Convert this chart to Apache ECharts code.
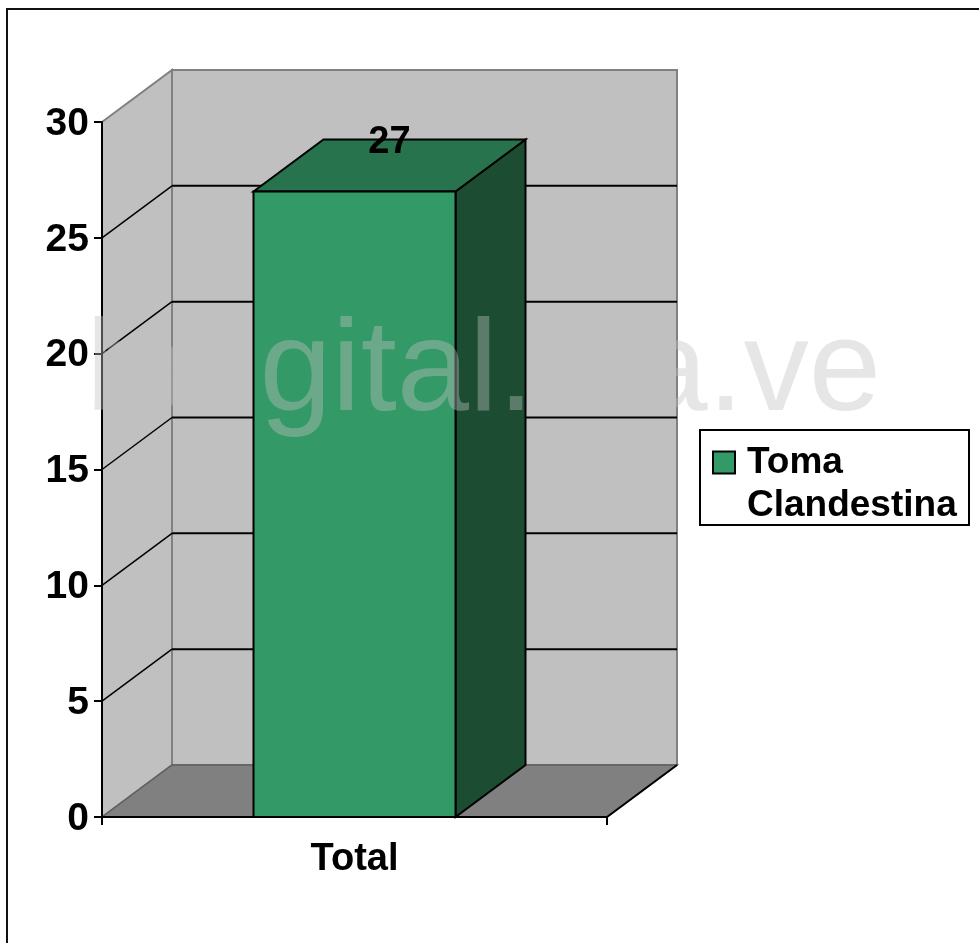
<!DOCTYPE html>
<html>
<head>
<meta charset="utf-8">
<style>
  html, body { margin: 0; padding: 0; background: #fff; }
  #chart { width: 979px; height: 943px; }
</style>
<script src="https://cdn.jsdelivr.net/npm/echarts@6/dist/echarts.min.js"></script>
</head>
<body>
<div id="chart"></div>
<script>
const categories = ['Total'];
const seriesName = 'Toma Clandestina';
const seriesValues = [27];
const gridValues = [5, 10, 15, 20, 25];

// fake 3d offset of the box, in pixels
const DEPTH_X = 70;
const DEPTH_Y = 52;
const FONT = '"Liberation Sans", Arial, sans-serif';

function poly(points, fill, stroke, lineWidth) {
    return {
        type: 'polygon',
        shape: { points: points },
        style: { fill: fill, stroke: stroke || null, lineWidth: lineWidth || 0, lineJoin: 'miter' }
    };
}

function line(x1, y1, x2, y2, color, lineWidth) {
    return {
        type: 'line',
        shape: { x1: x1, y1: y1, x2: x2, y2: y2 },
        style: { stroke: color, lineWidth: lineWidth }
    };
}

// walls, floor and gridlines
function renderWalls(params, api) {
    const g = params.coordSys;
    const left = g.x, right = g.x + g.width, top = g.y, bottom = g.y + g.height;
    const dx = DEPTH_X, dy = DEPTH_Y;
    const children = [
        poly([[left + dx, top - dy], [right + dx, top - dy], [right + dx, bottom - dy], [left + dx, bottom - dy]], '#c0c0c0', '#808080', 2),
        poly([[left, top], [left + dx, top - dy], [left + dx, bottom - dy], [left, bottom]], '#c0c0c0', '#808080', 2),
        poly([[left, bottom], [left + dx, bottom - dy], [right + dx, bottom - dy], [right, bottom]], '#808080', '#5f5f5f', 1.5),
        line(right, bottom, right + dx, bottom - dy, '#000', 2)
    ];
    gridValues.forEach(function (v) {
        const y = api.coord([0, v])[1];
        children.push(line(left, y, left + dx, y - dy, '#000', 1.5));
        children.push(line(left + dx, y - dy, right + dx, y - dy, '#000', 2));
    });
    return { type: 'group', children: children };
}

function renderBar(params, api) {
    const value = api.value(1);
    const top = api.coord([api.value(0), value]);
    const base = api.coord([api.value(0), 0]);
    const w = api.size([1, 0])[0] * 0.4;
    const x0 = top[0] - w / 2, x1 = top[0] + w / 2;
    const y0 = top[1], y1 = base[1];
    const dx = DEPTH_X, dy = DEPTH_Y;
    return {
        type: 'group',
        children: [
            poly([[x1, y0], [x1 + dx, y0 - dy], [x1 + dx, y1 - dy], [x1, y1]], '#1c4d33', '#000', 2),
            poly([[x0, y0], [x0 + dx, y0 - dy], [x1 + dx, y0 - dy], [x1, y0]], '#26734d', '#000', 2),
            poly([[x0, y0], [x1, y0], [x1, y1], [x0, y1]], '#339966', '#000', 2),
            {
                type: 'text',
                style: {
                    x: top[0] + dx / 2,
                    y: y0 - dy + 3,
                    text: String(value),
                    fill: '#000',
                    font: 'bold 38px ' + FONT,
                    align: 'center',
                    verticalAlign: 'middle'
                }
            }
        ]
    };
}

const chart = echarts.init(document.getElementById('chart'));
chart.setOption({
    animation: false,
    backgroundColor: '#fff',
    grid: { left: 102, top: 122, width: 505, height: 695 },
    xAxis: {
        type: 'category',
        data: categories,
        z: 10,
        axisLine: { lineStyle: { color: '#000', width: 2 } },
        axisTick: { show: true, length: 8, alignWithLabel: false, lineStyle: { color: '#000', width: 2 } },
        axisLabel: { color: '#000', fontFamily: FONT, fontWeight: 'bold', fontSize: 38, margin: 24 }
    },
    yAxis: {
        type: 'value',
        min: 0,
        max: 30,
        interval: 5,
        z: 10,
        axisLine: { show: true, lineStyle: { color: '#000', width: 2 } },
        axisTick: { show: true, length: 8, lineStyle: { color: '#000', width: 2 } },
        axisLabel: {
            margin: 13,
            formatter: '{v|{value}}',
            rich: {
                v: { color: '#000', fontFamily: FONT, fontWeight: 'bold', fontSize: 39, padding: [4, 0, 0, 0] }
            }
        },
        splitLine: { show: false }
    },
    legend: {
        left: 712,
        top: 398,
        padding: 0,
        itemWidth: 22,
        itemHeight: 22,
        icon: 'rect',
        itemStyle: { borderColor: '#000', borderWidth: 2 },
        data: [seriesName],
        selectedMode: false,
        formatter: function () { return ' \nToma\nClandestina'; },
        textStyle: {
            color: '#000',
            fontFamily: FONT,
            fontWeight: 'bold',
            fontSize: 37,
            lineHeight: 43,
            padding: [0, 0, 0, 7]
        }
    },
    graphic: [
        {
            type: 'polyline',
            shape: { points: [[7, 943], [7, 9], [979, 9]] },
            style: { stroke: '#111', lineWidth: 2, fill: null },
            z: 1
        },
        {
            type: 'rect',
            shape: { x: 700, y: 430, width: 269, height: 95 },
            style: { fill: '#fff', stroke: '#000', lineWidth: 2 },
            z: 1
        },
        {
            type: 'text',
            left: 86,
            top: 309,
            silent: true,
            z: 100,
            style: {
                text: 'bdigital.ula.ve',
                fill: 'rgba(192,192,192,0.4)',
                font: '130px ' + FONT
            }
        }
    ],
    series: [
        {
            name: 'walls',
            type: 'custom',
            coordinateSystem: 'cartesian2d',
            silent: true,
            z: 2,
            data: [[0, 0]],
            renderItem: renderWalls
        },
        {
            name: seriesName,
            type: 'custom',
            coordinateSystem: 'cartesian2d',
            z: 3,
            itemStyle: { color: '#339966' },
            encode: { x: 0, y: 1 },
            data: categories.map(function (c, i) { return [i, seriesValues[i]]; }),
            renderItem: renderBar
        }
    ]
});
</script>
</body>
</html>
